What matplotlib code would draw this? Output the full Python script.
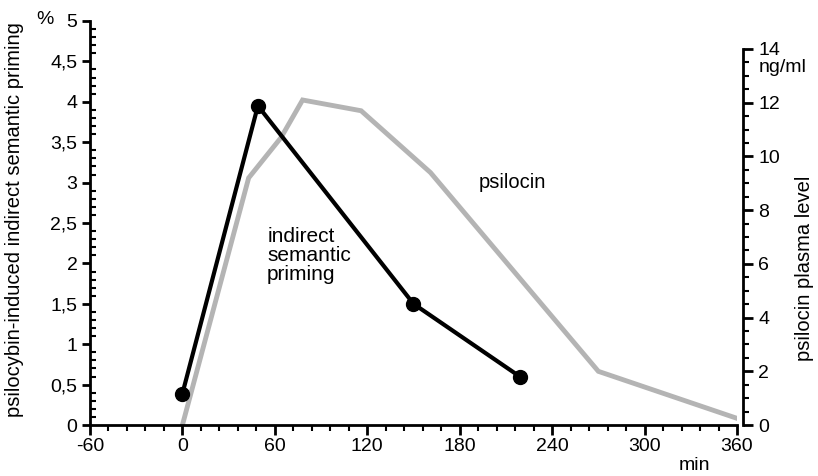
import matplotlib.pyplot as plt
import numpy as np
from matplotlib.ticker import MultipleLocator, FuncFormatter, FixedLocator

plt.rcParams['font.family'] = ['Liberation Sans', 'DejaVu Sans']
plt.rcParams['axes.unicode_minus'] = False

# indirect semantic priming (%), left axis
priming_min = [0, 49, 150, 219]
priming_pct = [0.39, 3.95, 1.50, 0.60]

# psilocin plasma level (ng/ml), right axis
psilocin_min = [0, 43, 64, 78, 116, 161, 270, 360]
psilocin_ng = [0.0, 9.2, 10.7, 12.1, 11.7, 9.4, 2.0, 0.25]

x_ticks = [-60, 0, 60, 120, 180, 240, 300, 360]

fig = plt.figure(figsize=(8.18, 4.76), dpi=100)
ax = fig.add_axes([0.110, 0.107, 0.791, 0.849])
ax2 = ax.twinx()

ax2.plot(psilocin_min, psilocin_ng, color='#b4b4b4', lw=3.5, solid_joinstyle='miter', zorder=1)
ax.plot(priming_min, priming_pct, color='black', lw=3, marker='o', ms=10, zorder=3)

# draw the priming line above the twin axis
ax.set_zorder(ax2.get_zorder() + 1)
ax.patch.set_visible(False)

ax.set_xlim(-60, 360)
ax.set_ylim(0, 5)
ax2.set_ylim(0, 14 * 404 / 376)

for s in ['top', 'right']:
    ax.spines[s].set_visible(False)
for s in ['top', 'left', 'bottom']:
    ax2.spines[s].set_visible(False)
ax2.spines['right'].set_position(('axes', 1.009))
ax2.spines['right'].set_bounds(0, 14)
for sp in [ax.spines['left'], ax.spines['bottom'], ax2.spines['right']]:
    sp.set_linewidth(2)

ax.set_xticks(x_ticks)
ax.xaxis.set_minor_locator(MultipleLocator(12))
ax.yaxis.set_major_locator(MultipleLocator(0.5))
ax.yaxis.set_minor_locator(MultipleLocator(0.1))
ax.yaxis.set_major_formatter(FuncFormatter(lambda v, p: ('%g' % v).replace('.', ',')))
ax2.set_yticks(np.arange(0, 15, 2))
ax2.yaxis.set_minor_locator(FixedLocator(np.arange(0, 14.01, 0.5)))

ax.tick_params(axis='x', which='major', direction='out', length=7, width=2, labelsize=14, pad=2)
ax.tick_params(axis='x', which='minor', direction='out', length=4, width=1.5)
ax.tick_params(axis='y', which='major', direction='out', length=6, width=2, labelsize=14, pad=3)
ax.tick_params(axis='y', which='minor', direction='in', length=4, width=1.5)
ax2.tick_params(axis='y', which='major', direction='out', length=7, width=2, labelsize=14, pad=4)
ax2.tick_params(axis='y', which='minor', direction='out', length=4, width=1.5)

ax.text(55, 2.45, 'indirect\nsemantic\npriming', fontsize=15, va='top', ha='left', linespacing=1.0)
ax.text(192, 3.0, 'psilocin', fontsize=14.5, va='center', ha='left')

fig.text(45 / 818, 1 - 20 / 476, '%', fontsize=14, ha='center', va='center')
fig.text(783 / 818, 1 - 67 / 476, 'ng/ml', fontsize=14, ha='center', va='center')
fig.text(694 / 818, 1 - 466 / 476, 'min', fontsize=14, ha='center', va='center')
fig.text(15 / 818, 1 - 220 / 476, 'psilocybin-induced indirect semantic priming',
         fontsize=14.5, rotation=90, ha='center', va='center')
fig.text(805 / 818, 1 - 268 / 476, 'psilocin plasma level',
         fontsize=14.5, rotation=90, ha='center', va='center')

fig.savefig('out.png', dpi=100)
